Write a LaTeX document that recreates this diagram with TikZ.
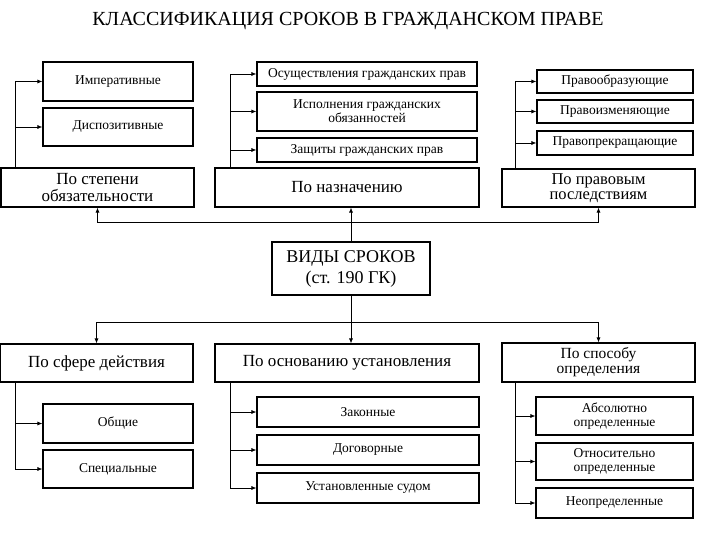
\documentclass[tikz,border=0pt]{standalone}
\usepackage{fontspec}
\setmainfont{Liberation Serif}
\usetikzlibrary{arrows.meta}

\begin{document}
\begin{tikzpicture}[x=1pt,y=-1pt,
	box/.style={draw, line width=1.1pt, align=center, inner sep=0pt},
	big/.style={box, font=\fontsize{17}{17}\selectfont},
	small/.style={box, font=\fontsize{13.5}{14}\selectfont},
	arr/.style={-{Latex[length=5pt,width=4pt]}, line width=0.7pt}]
	\useasboundingbox (0,0) rectangle (720,540);
		% title
		\node (title) at (348,21) {\fontsize{20}{20}\selectfont КЛАССИФИКАЦИЯ СРОКОВ В ГРАЖДАНСКОМ ПРАВЕ};
		% top categories
		\node[big, minimum width=193pt, minimum height=39pt] (stepen) at (97.5,187.5) {По степени\\обязательности};
		\node[big, minimum width=264pt, minimum height=39pt] (naznach) at (347,187.5) {По назначению};
		\node[box, font=\fontsize{16.5}{15}\selectfont, minimum width=193pt, minimum height=38pt] (posled) at (598.5,188) {По правовым\\последствиям};
		% top children
		\node[small, minimum width=150pt, minimum height=39pt] (imper) at (118,81.5) {Императивные};
		\node[small, minimum width=150pt, minimum height=38pt] (dispoz) at (118,127) {Диспозитивные};
		\node[small, minimum width=220pt, minimum height=24pt] (osush) at (367,74) {Осуществления гражданских прав};
		\node[small, minimum width=220pt, minimum height=39pt] (ispoln) at (367,111.5) {Исполнения гражданских\\обязанностей};
		\node[small, minimum width=220pt, minimum height=24pt] (zashch) at (367,150) {Защиты гражданских прав};
		\node[small, minimum width=156pt, minimum height=23pt] (obraz) at (615,81.5) {Правообразующие};
		\node[small, minimum width=156pt, minimum height=23pt] (izmen) at (615,111.5) {Правоизменяющие};
		\node[small, minimum width=156pt, minimum height=24pt] (prekr) at (615,143) {Правопрекращающие};
		% center
		\node[box, font=\fontsize{18}{21}\selectfont, minimum width=158pt, minimum height=53pt] (vidy) at (351,268.5) {ВИДЫ СРОКОВ\\(ст. 190 ГК)};
		% bottom categories
		\node[big, minimum width=193pt, minimum height=38pt] (sfera) at (96.5,363) {По сфере действия};
		\node[big, minimum width=264pt, minimum height=38pt] (osnov) at (347,363) {По основанию установления};
		\node[box, font=\fontsize{15.5}{15}\selectfont, minimum width=193pt, minimum height=39pt] (sposob) at (598.5,362.5) {По способу\\определения};
		% bottom children
		\node[small, minimum width=150pt, minimum height=39pt] (obshie) at (118,423.5) {Общие};
		\node[small, minimum width=150pt, minimum height=38pt] (spec) at (118,469) {Специальные};
		\node[small, minimum width=222pt, minimum height=30pt] (zakon) at (368,412) {Законные};
		\node[small, minimum width=222pt, minimum height=30pt] (dogov) at (368,450) {Договорные};
		\node[small, minimum width=222pt, minimum height=30pt] (sud) at (368,488) {Установленные судом};
		\node[small, minimum width=157pt, minimum height=38pt] (absol) at (614.5,416) {Абсолютно\\определенные};
		\node[small, minimum width=157pt, minimum height=37pt] (otnos) at (614.5,461.5) {Относительно\\определенные};
		\node[small, minimum width=157pt, minimum height=30pt] (neopr) at (614.5,503) {Неопределенные};
		% trunks
		\coordinate (ta) at (15,0);
		\coordinate (tb) at (230,0);
		\coordinate (tc) at (515,0);
		\foreach \n in {imper,dispoz} {
			\draw[arr] (ta |- stepen.north) |- (\n.west);
		}
		\foreach \n in {osush,ispoln,zashch} {
			\draw[arr] (tb |- naznach.north) |- (\n.west);
		}
		\foreach \n in {obraz,izmen,prekr} {
			\draw[arr] (tc |- posled.north) |- (\n.west);
		}
		\foreach \n in {obshie,spec} {
			\draw[arr] (ta |- sfera.south) |- (\n.west);
		}
		\foreach \n in {zakon,dogov,sud} {
			\draw[arr] (tb |- osnov.south) |- (\n.west);
		}
		\foreach \n in {absol,otnos,neopr} {
			\draw[arr] (tc |- sposob.south) |- (\n.west);
		}
		% buses
		\coordinate (bu) at (0,222);
		\coordinate (bd) at (0,322);
		\draw[arr] (vidy.north) -- (vidy.north |- naznach.south);
		\draw[arr] (vidy.north |- bu) -| (stepen.south);
		\draw[arr] (vidy.north |- bu) -| (posled.south);
		\draw[arr] (vidy.south) -- (vidy.south |- osnov.north);
		\draw[arr] (vidy.south |- bd) -| (sfera.north);
		\draw[arr] (vidy.south |- bd) -| (sposob.north);
\end{tikzpicture}
\end{document}
